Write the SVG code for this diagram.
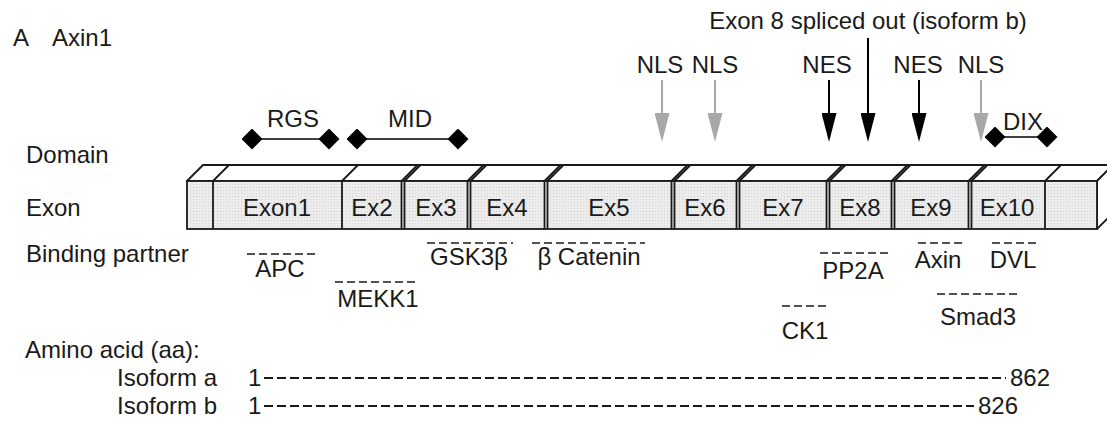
<svg xmlns="http://www.w3.org/2000/svg" width="1107" height="422" viewBox="0 0 1107 422">
  <style>
    text { font-family: "Liberation Sans", Arial, sans-serif; font-size: 24px; fill: #1a1a1a; }
    .mid { text-anchor: middle; }
    .edge { fill: none; stroke: #1a1a1a; stroke-width: 1.8; }
    .face { fill: url(#stipple); stroke: #1a1a1a; stroke-width: 1.8; }
    .lid { fill: #ffffff; stroke: #1a1a1a; stroke-width: 1.8; stroke-linejoin: round; }
    .bind { fill: none; stroke: #1a1a1a; stroke-width: 1.6; stroke-dasharray: 8 4; }
    .seq { fill: none; stroke: #1a1a1a; stroke-width: 1.8; stroke-dasharray: 9 4; }
    .span { fill: none; stroke: #000; stroke-width: 1.6; marker-start: url(#diamond); marker-end: url(#diamond); }
    .sig-dark { stroke: #000; stroke-width: 2; marker-end: url(#head-dark); }
    .sig-light { stroke: #a8a8a8; stroke-width: 2; marker-end: url(#head-light); }
  </style>
  <defs>
    <pattern id="stipple" width="3" height="3" patternUnits="userSpaceOnUse">
      <rect width="3" height="3" fill="#ececec"/>
      <rect x="1" y="1" width="1" height="1" fill="#d2d2d2"/>
    </pattern>
    <marker id="diamond" viewBox="0 0 21 21" refX="10.5" refY="10.5" markerWidth="21" markerHeight="21" markerUnits="userSpaceOnUse" orient="auto">
      <path d="M0,10.5 L10.5,0 L21,10.5 L10.5,21 Z" fill="#000"/>
    </marker>
    <marker id="head-dark" viewBox="0 0 29 15" refX="0" refY="7.5" markerWidth="29" markerHeight="15" markerUnits="userSpaceOnUse" orient="auto">
      <path d="M0,0 L29,7.5 L0,15 Z" fill="#000"/>
    </marker>
    <marker id="head-light" viewBox="0 0 29 15" refX="0" refY="7.5" markerWidth="29" markerHeight="15" markerUnits="userSpaceOnUse" orient="auto">
      <path d="M0,0 L29,7.5 L0,15 Z" fill="#a8a8a8"/>
    </marker>
  </defs>

  <rect width="1107" height="422" fill="#ffffff"/>

  <!-- panel heading -->
  <g id="heading">
    <text x="13" y="46">A</text>
    <text x="52" y="46">Axin1</text>
    <text class="mid" x="868" y="29">Exon 8 spliced out (isoform b)</text>
  </g>

  <!-- row labels -->
  <g id="row-labels">
    <text x="26" y="163">Domain</text>
    <text x="26" y="216">Exon</text>
    <text x="26" y="262">Binding partner</text>
  </g>

  <!-- signal labels -->
  <g id="signals">
    <g id="nls-1"><text class="mid" x="660" y="73">NLS</text></g>
    <g id="nls-2"><text class="mid" x="715" y="73">NLS</text></g>
    <g id="nes-1"><text class="mid" x="827" y="73">NES</text></g>
    <g id="nes-2"><text class="mid" x="918" y="73">NES</text></g>
    <g id="nls-3"><text class="mid" x="981" y="73">NLS</text></g>
  </g>

  <!-- protein domains -->
  <g id="domains">
    <g id="rgs">
      <text class="mid" x="293" y="127">RGS</text>
      <line class="span" x1="252" y1="139" x2="329" y2="139"/>
    </g>
    <g id="mid">
      <text class="mid" x="410" y="127">MID</text>
      <line class="span" x1="357" y1="139" x2="458" y2="139"/>
    </g>
    <g id="dix">
      <text class="mid" x="1023" y="130">DIX</text>
      <line class="span" x1="995" y1="137" x2="1047" y2="137"/>
    </g>
  </g>

  <!-- exon bar drawn as a box in perspective -->
  <g id="exon-bar">
    <polygon class="lid" points="187,181 203,165 1113,165 1097,181"/>
    <polygon class="lid" points="1097,181 1113,165 1113,213 1097,229"/>
    <rect class="face" x="187" y="181" width="910" height="48"/>
    <!-- single boundaries -->
    <path class="edge" d="M213,181 V229 M213,181 L229,165
                          M342,181 V229 M342,181 L358,165
                          M1045,181 V229 M1045,181 L1061,165"/>
    <!-- double boundaries -->
    <path class="edge" d="M401.5,181 V229 M404.5,181 V229 M401.5,181 L417.5,165 M404.5,181 L420.5,165
                          M467.5,181 V229 M470.5,181 V229 M467.5,181 L483.5,165 M470.5,181 L486.5,165
                          M544.5,181 V229 M547.5,181 V229 M544.5,181 L560.5,165 M547.5,181 L563.5,165
                          M671.5,181 V229 M674.5,181 V229 M671.5,181 L687.5,165 M674.5,181 L690.5,165
                          M736.5,181 V229 M739.5,181 V229 M736.5,181 L752.5,165 M739.5,181 L755.5,165
                          M826.5,181 V229 M829.5,181 V229 M826.5,181 L842.5,165 M829.5,181 L845.5,165
                          M891.5,181 V229 M894.5,181 V229 M891.5,181 L907.5,165 M894.5,181 L910.5,165
                          M968.5,181 V229 M971.5,181 V229 M968.5,181 L984.5,165 M971.5,181 L987.5,165"/>
    <g id="exon1"><text class="mid" x="277" y="216">Exon1</text></g>
    <g id="exon2"><text class="mid" x="372" y="216">Ex2</text></g>
    <g id="exon3"><text class="mid" x="436" y="216">Ex3</text></g>
    <g id="exon4"><text class="mid" x="507" y="216">Ex4</text></g>
    <g id="exon5"><text class="mid" x="609" y="216">Ex5</text></g>
    <g id="exon6"><text class="mid" x="705" y="216">Ex6</text></g>
    <g id="exon7"><text class="mid" x="783" y="216">Ex7</text></g>
    <g id="exon8"><text class="mid" x="860" y="216">Ex8</text></g>
    <g id="exon9"><text class="mid" x="931" y="216">Ex9</text></g>
    <g id="exon10"><text class="mid" x="1007" y="216">Ex10</text></g>
  </g>

  <!-- binding partners: dashed span over the name -->
  <g id="binding-partners">
    <g id="apc"><line class="bind" x1="247" y1="254" x2="318" y2="254"/><text class="mid" x="280" y="277">APC</text></g>
    <g id="mekk1"><line class="bind" x1="335" y1="282" x2="418" y2="282"/><text class="mid" x="378" y="307">MEKK1</text></g>
    <g id="gsk3b"><line class="bind" x1="427" y1="243" x2="513" y2="243"/><text class="mid" x="469" y="265">GSK3β</text></g>
    <g id="b-catenin"><line class="bind" x1="532" y1="243" x2="645" y2="243"/><text class="mid" x="589" y="265">β Catenin</text></g>
    <g id="ck1"><line class="bind" x1="782" y1="306" x2="828" y2="306"/><text class="mid" x="805" y="339">CK1</text></g>
    <g id="pp2a"><line class="bind" x1="820" y1="253" x2="888" y2="253"/><text class="mid" x="853" y="279">PP2A</text></g>
    <g id="axin"><line class="bind" x1="918" y1="243" x2="963" y2="243"/><text class="mid" x="938" y="268">Axin</text></g>
    <g id="dvl"><line class="bind" x1="992" y1="243" x2="1037" y2="243"/><text class="mid" x="1013" y="268">DVL</text></g>
    <g id="smad3"><line class="bind" x1="937" y1="294" x2="1018" y2="294"/><text class="mid" x="978" y="325">Smad3</text></g>
  </g>

  <!-- amino acid lengths -->
  <g id="amino-acids">
    <text x="25" y="358">Amino acid (aa):</text>
    <g id="isoform-a">
      <text x="117" y="386">Isoform a</text>
      <text x="248" y="386">1</text>
      <line class="seq" x1="264" y1="378" x2="1006" y2="378"/>
      <text x="1010" y="386">862</text>
    </g>
    <g id="isoform-b">
      <text x="117" y="414">Isoform b</text>
      <text x="248" y="414">1</text>
      <line class="seq" x1="264" y1="406" x2="974" y2="406"/>
      <text x="978" y="414">826</text>
    </g>
  </g>

  <!-- signal arrows -->
  <g id="connectors">
    <line class="sig-light" x1="662" y1="80" x2="662" y2="113"/>
    <line class="sig-light" x1="715" y1="80" x2="715" y2="113"/>
    <line class="sig-dark" x1="829" y1="80" x2="829" y2="113"/>
    <line class="sig-dark" x1="868" y1="38" x2="868" y2="113"/>
    <line class="sig-dark" x1="919" y1="80" x2="919" y2="113"/>
    <line class="sig-light" x1="981" y1="80" x2="981" y2="113"/>
  </g>
</svg>
